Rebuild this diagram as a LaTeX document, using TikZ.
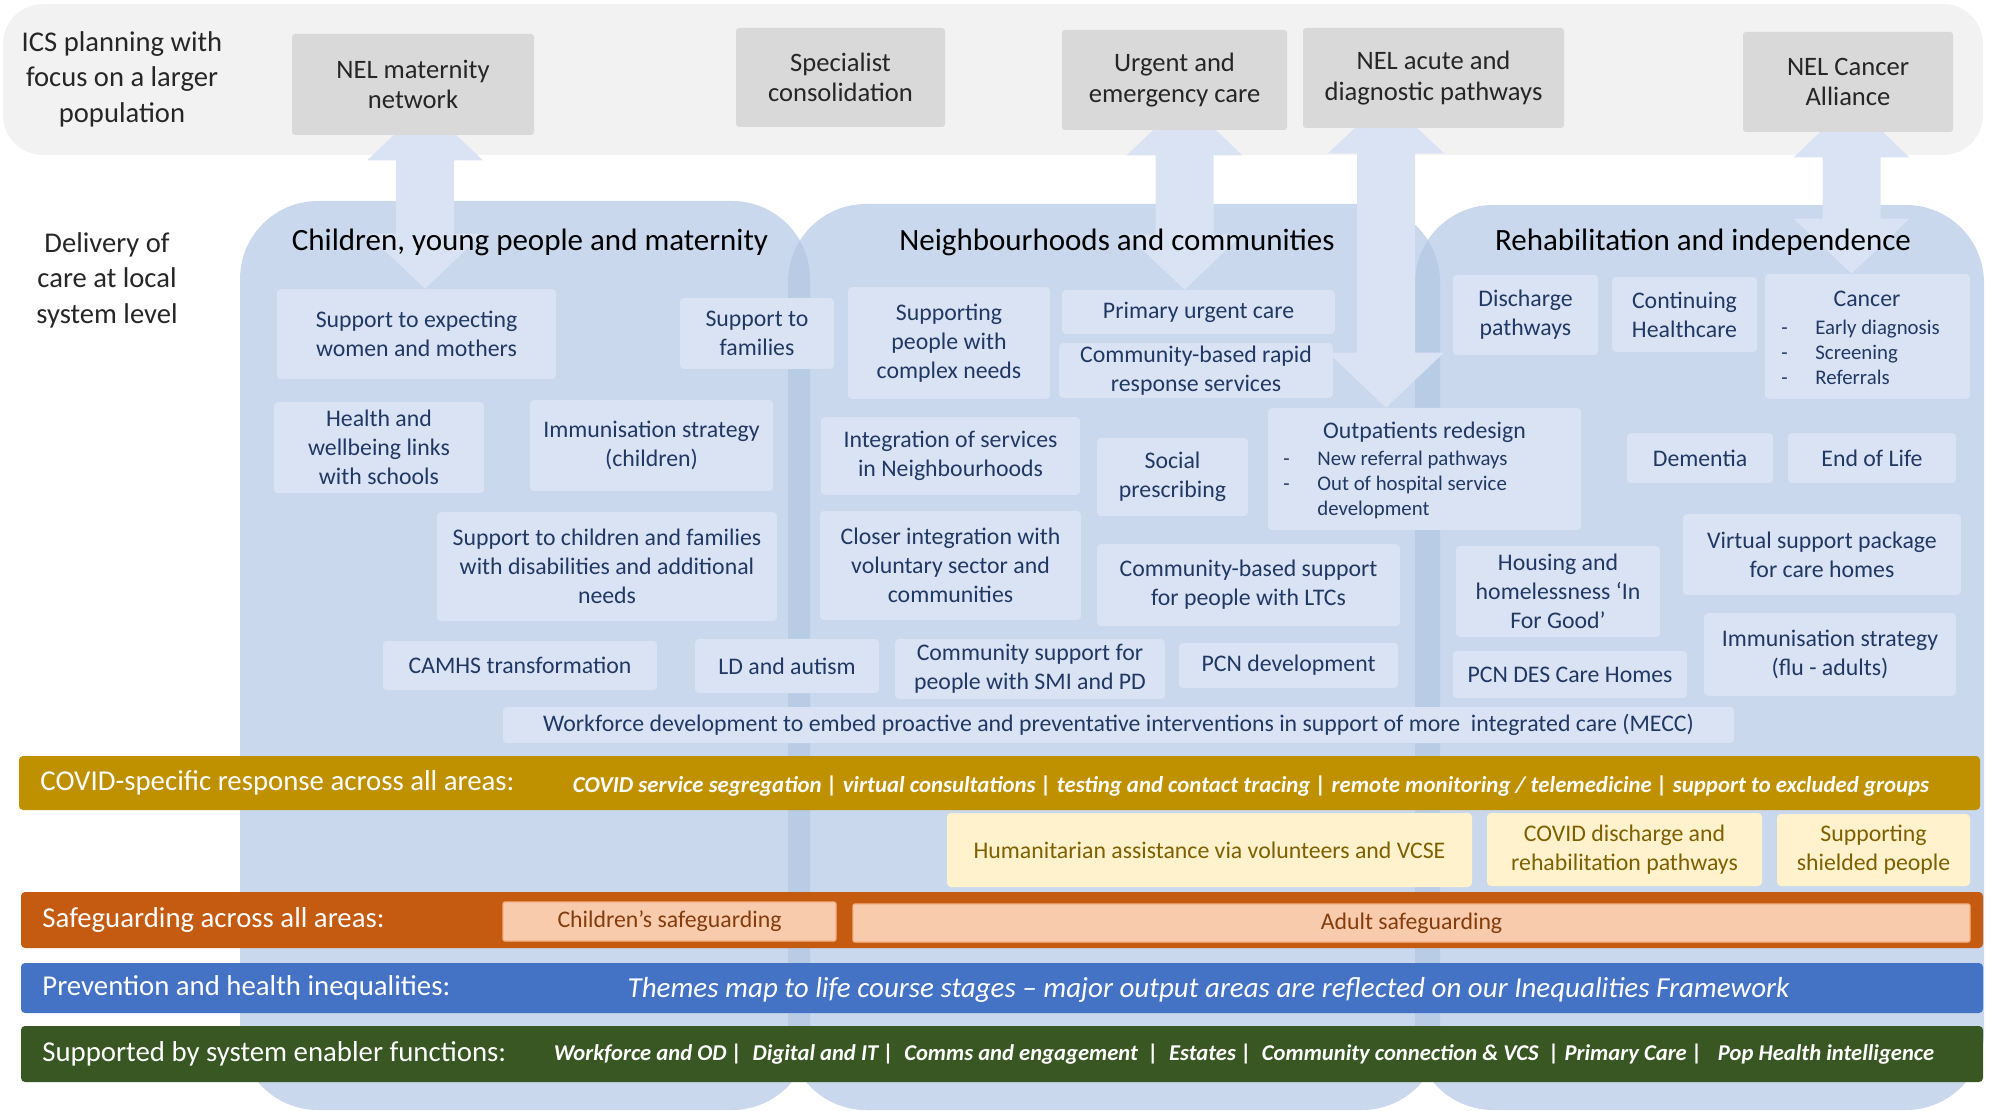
\documentclass[tikz,border=0pt]{standalone}
\usepackage{fontspec}
\setmainfont{Carlito}
\usepackage{xcolor}
\usepackage{tikz}
\usetikzlibrary{positioning}
\usetikzlibrary{calc}

\definecolor{bandgrey}{HTML}{F2F2F2}
\definecolor{topgrey}{HTML}{D9D9D9}
\definecolor{topink}{HTML}{262626}
\definecolor{colblue}{HTML}{B2C7E4}
\definecolor{boxblue}{HTML}{DAE3F3}
\definecolor{navy}{HTML}{203864}
\definecolor{covidgold}{HTML}{BF9000}
\definecolor{covidpale}{HTML}{FFF2CC}
\definecolor{covidink}{HTML}{7F6000}
\definecolor{safeorange}{HTML}{C55A11}
\definecolor{safepale}{HTML}{F8CBAD}
\definecolor{safeline}{HTML}{F4B183}
\definecolor{safeink}{HTML}{843C0C}
\definecolor{prevblue}{HTML}{4472C4}
\definecolor{enabgreen}{HTML}{385723}

\pgfdeclarelayer{back}
\pgfdeclarelayer{mid}
\pgfsetlayers{back,mid,main}

\tikzset{
  wh/.style 2 args={minimum width=#1*0.5pt, minimum height=#2*0.5pt},
  topbox/.style={fill=topgrey, text=topink, rounded corners=1.5pt, inner sep=0pt,
    align=center, font=\fontsize{13.3}{15.3}\selectfont},
  carebox/.style={fill=boxblue, text=navy, rounded corners=2pt, inner sep=0pt,
    align=center, font=\fontsize{11.9}{14.5}\selectfont},
  listtext/.style={text=navy, inner sep=0pt, align=left, font=\fontsize{10.4}{12.5}\selectfont},
  covidbox/.style={carebox, fill=covidpale, text=covidink},
  safebox/.style={carebox, fill=safepale, text=safeink, draw=safeline, line width=0.6pt,
    rounded corners=1pt},
  band/.style={rounded corners=2pt, inner sep=0pt},
  bandlabel/.style={anchor=west, inner sep=0pt, text=white, font=\fontsize{14.4}{17}\selectfont},
  bandtext/.style={inner sep=0pt, text=white},
  sidetext/.style={text=topink, align=center, inner sep=0pt, font=\fontsize{14.3}{17.75}\selectfont},
  colhead/.style={inner sep=0pt, text=black, font=\fontsize{15.5}{18}\selectfont},
  column/.style={fill=colblue, fill opacity=0.7, rounded corners=39pt},
}

% two-headed block arrow: from node, to node, x offset
\newcommand{\twoway}[3]{%
  \path ($(#1.south)+(#3,-30)$) coordinate (t) (t |- #2.north) coordinate (b);
  \fill[boxblue] (t) -- ++(58,55) -- ++(-29,0) -- ($(b)+(29,-55)$) -- ++(29,0) -- (b)
    -- ++(-58,-55) -- ++(29,0) -- ($(t)+(-29,55)$) -- ++(-29,0) -- cycle;}

\begin{document}
\begin{tikzpicture}[x=0.5pt, y=-0.5pt]
   \useasboundingbox (0,0) rectangle (1990,1111);

   \begin{pgfonlayer}{back}
      \fill[bandgrey, rounded corners=20pt] (3,4) rectangle (1983,155);
      \fill[column] (240,201) rectangle (810,1110);
      \fill[column] (788,204) rectangle (1440,1110);
      \fill[column] (1415,205) rectangle (1984,1110);
   \end{pgfonlayer}

   \node (ics)   [sidetext] at (122,79) {ICS planning with\\focus on a larger\\population};
   \node (local) [sidetext] at (107,280) {Delivery of\\care at local\\system level};

   \node (mat)   [topbox, wh={242}{101}] at (413,84.5) {NEL maternity\\network};
   \node (spec)  [topbox, wh={209}{99}] at (840.5,77.5) {Specialist\\consolidation};
   \node (uec)   [topbox, wh={225}{100}] at (1174.5,80) {Urgent and\\emergency care};
   \node (acute) [topbox, wh={261}{100}] at (1433.5,78) {NEL acute and\\diagnostic pathways};
   \node (nca)   [topbox, wh={210}{100}] at (1848,82) {NEL Cancer\\Alliance};

   \node (cyphead)  [colhead] at (530,242) {Children, young people and maternity};
   \node (nbhhead)  [colhead] at (1117,242) {Neighbourhoods and communities};
   \node (rehabhead)[colhead] at (1703,242) {Rehabilitation and independence};

   % children, young people and maternity
   \node (exp)   [carebox, wh={279}{90}] at (416.5,334) {Support to expecting\\women and mothers};
   \node (fam)   [carebox, wh={154}{71}] at (757,333.5) {Support to\\families};
   \node (hwb)   [carebox, wh={210}{91}] at (379,447.5) {Health and\\wellbeing links\\with schools};
   \node (immc)  [carebox, wh={243}{91}] at (651.5,445.5) {Immunisation strategy\\(children)};
   \node (send)  [carebox, wh={340}{109}] at (607,566.5) {Support to children and families\\with disabilities and additional\\needs};
   \node (camhs) [carebox, wh={274}{49}] at (520,665.5) {CAMHS transformation};
   \node (ld)    [carebox, wh={184}{54}] at (787,666) {LD and autism};

   % neighbourhoods and communities
   \node (cplx)  [carebox, wh={202}{112}] at (949,343) {Supporting\\people with\\complex needs};
   \node (puc)   [carebox, wh={273}{44}] at (1198.5,312) {Primary urgent care};
   \node (rapid) [carebox, wh={274}{55}] at (1196,370.5) {Community-based rapid\\response services};
   \node (integ) [carebox, wh={259}{78}] at (950.5,456) {Integration of services\\in Neighbourhoods};
   \node (social)[carebox, wh={151}{78}] at (1172.5,477) {Social\\prescribing};
   \node (outp)  [carebox, wh={313}{122}] at (1424.5,469) {};
   \node (outpt) [carebox, fill=none] at (1424.5,432) {Outpatients redesign};
   \node (outpl) [listtext, anchor=west] at (1283,485) {\makebox[17pt][l]{-}New referral pathways\\
      \makebox[17pt][l]{-}Out of hospital service\\\makebox[17pt][l]{}development};
   \node (vol)   [carebox, wh={261}{109}] at (950.5,565.5) {Closer integration with\\voluntary sector and\\communities};
   \node (ltc)   [carebox, wh={303}{82}] at (1248.5,585) {Community-based support\\for people with LTCs};
   \node (smi)   [carebox, wh={270}{60}] at (1030,669) {Community support for\\people with SMI and PD};
   \node (pcn)   [carebox, wh={219}{45}] at (1288.5,665.5) {PCN development};

   % rehabilitation and independence
   \node (dis)   [carebox, wh={145}{80}] at (1525.5,315) {Discharge\\pathways};
   \node (chc)   [carebox, wh={145}{75}] at (1684.5,314.5) {Continuing\\Healthcare};
   \node (cancer)[carebox, wh={205}{125}] at (1867.5,336.5) {};
   \node (cant)  [carebox, fill=none] at (1867,299) {Cancer};
   \node (canl)  [listtext, anchor=west] at (1781,352) {\makebox[17pt][l]{-}Early diagnosis\\
      \makebox[17pt][l]{-}Screening\\\makebox[17pt][l]{-}Referrals};
   \node (dem)   [carebox, wh={146}{50}] at (1700,458) {Dementia};
   \node (eol)   [carebox, wh={168}{50}] at (1872,458) {End of Life};
   \node (vsp)   [carebox, wh={278}{81}] at (1822,554.5) {Virtual support package\\for care homes};
   \node (house) [carebox, wh={204}{91}] at (1558,591.5) {Housing and\\homelessness ‘In\\For Good’};
   \node (imma)  [carebox, wh={252}{83}] at (1830,654.5) {Immunisation strategy\\(flu - adults)};
   \node (pcndes)[carebox, wh={234}{47}] at (1570,674.5) {PCN DES Care Homes};

   \node (wf)    [carebox, wh={1231}{36}] at (1118.5,725) {Workforce development to embed proactive and preventative interventions in support of more\ \ integrated care (MECC)};

   % cross-cutting bands
   \node (covid) [band, fill=covidgold, wh={1961}{54}] at (999.5,783) {};
   \node (covidlab) [bandlabel] at (40,783) {COVID-specific response across all areas:};
   \node (covidtxt) [bandtext, font=\fontsize{11.4}{14}\selectfont\bfseries\itshape] at (1251,786)
      {COVID service segregation | virtual consultations | testing and contact tracing | remote monitoring / telemedicine | support to excluded groups};
   \node (hum)   [covidbox, wh={525}{74}] at (1209.5,850) {Humanitarian assistance via volunteers and VCSE};
   \node (cdis)  [covidbox, wh={275}{73}] at (1624.5,849.5) {COVID discharge and\\rehabilitation pathways};
   \node (shield)[covidbox, wh={193}{72}] at (1873.5,850) {Supporting\\shielded people};

   \node (safe)  [band, fill=safeorange, wh={1962}{56}] at (1002,920) {};
   \node (safelab) [bandlabel] at (42,920) {Safeguarding across all areas:};
   \node (csafe) [safebox, wh={333}{39}] at (669.5,921.5) {Children’s safeguarding};
   \node (asafe) [safebox, wh={1117}{38}] at (1411.5,923) {Adult safeguarding};

   \node (prev)  [band, fill=prevblue, wh={1962}{50}] at (1002,988) {};
   \node (prevlab) [bandlabel] at (42,988) {Prevention and health inequalities:};
   \node (prevtxt) [bandtext, font=\fontsize{14.5}{17}\selectfont\itshape] at (1208.5,990)
      {Themes map to life course stages – major output areas are reflected on our Inequalities Framework};

   \node (enab)  [band, fill=enabgreen, wh={1962}{56}] at (1002,1054) {};
   \node (enablab) [bandlabel] at (42,1054) {Supported by system enabler functions:};
   \node (enabtxt) [bandtext, font=\fontsize{11.3}{14}\selectfont\bfseries\itshape] at (1244,1054)
      {Workforce and OD |\ \ Digital and IT |\ \ Comms and engagement\ \ |\ \ Estates |\ \ Community connection \& VCS\ \ | Primary Care |\ \ \ Pop Health intelligence};

   \begin{pgfonlayer}{mid}
      \twoway{mat}{exp}{12}
      \twoway{uec}{puc}{10}
      \twoway{acute}{outp}{-47.5}
      \twoway{nca}{cancer}{3.5}
   \end{pgfonlayer}
\end{tikzpicture}
\end{document}
